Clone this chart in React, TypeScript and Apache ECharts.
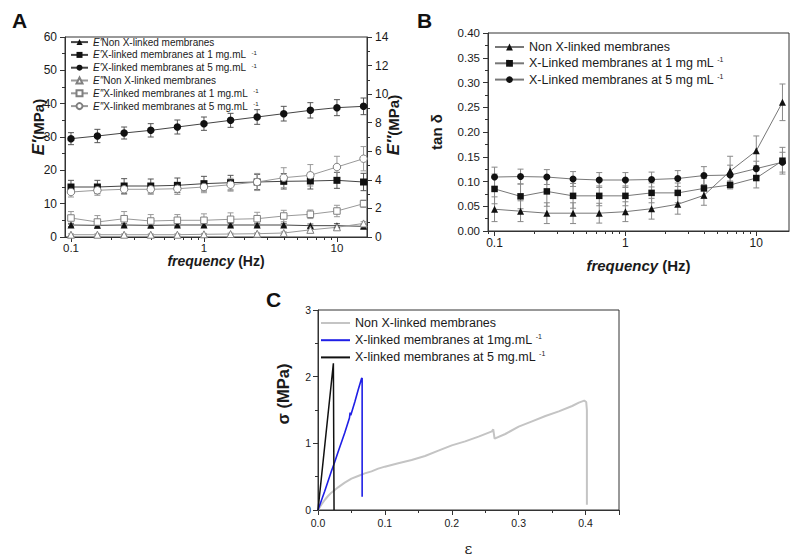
import React, { useEffect, useRef } from 'react';
import * as echarts from 'echarts';

// ---------- Data ----------
const FREQ = [0.1, 0.158, 0.251, 0.398, 0.631, 1, 1.585, 2.512, 3.981, 6.31, 10, 15.85];

// Panel A – E' (MPa, left axis)
const E1_NON = [3.6, 3.5, 3.6, 3.5, 3.6, 3.6, 3.6, 3.6, 3.6, 3.4, 3.4, 3.2];
const E1_NON_ERR = [0.5, 0.5, 0.5, 0.5, 0.5, 0.5, 0.5, 0.5, 0.5, 0.5, 0.6, 0.6];
const E1_1MG = [15.0, 15.0, 15.3, 15.3, 15.5, 16.0, 16.3, 16.5, 16.7, 16.8, 17.0, 16.5];
const E1_1MG_ERR = [2.0, 2.0, 2.2, 2.1, 2.2, 2.2, 2.2, 2.3, 2.3, 2.4, 2.4, 2.6];
const E1_5MG = [29.5, 30.3, 31.2, 32.0, 33.0, 34.0, 35.0, 36.0, 37.0, 38.0, 38.8, 39.2];
const E1_5MG_ERR = [1.8, 2.0, 1.8, 2.0, 2.1, 2.0, 2.1, 2.2, 2.2, 2.3, 2.4, 2.5];

// Panel A – E'' (MPa, right axis)
const E2_NON = [0.16, 0.16, 0.16, 0.16, 0.16, 0.19, 0.21, 0.23, 0.28, 0.5, 0.68, 0.95];
const E2_NON_ERR = [0.06, 0.06, 0.06, 0.06, 0.06, 0.06, 0.06, 0.06, 0.08, 0.1, 0.1, 0.12];
const E2_1MG = [1.33, 1.05, 1.28, 1.12, 1.17, 1.17, 1.24, 1.28, 1.47, 1.59, 1.82, 2.33];
const E2_1MG_ERR = [0.45, 0.45, 0.5, 0.45, 0.4, 0.45, 0.45, 0.45, 0.4, 0.3, 0.4, 0.25];
const E2_5MG = [3.15, 3.27, 3.34, 3.34, 3.38, 3.5, 3.66, 3.85, 4.15, 4.32, 4.9, 5.48];
const E2_5MG_ERR = [0.35, 0.35, 0.35, 0.35, 0.4, 0.4, 0.45, 0.6, 0.7, 0.75, 0.75, 0.85];

// Panel B – tan δ
const TAN_NON = [0.044, 0.040, 0.036, 0.036, 0.036, 0.039, 0.045, 0.054, 0.072, 0.121, 0.162, 0.260];
const TAN_NON_ERR = [0.025, 0.021, 0.021, 0.021, 0.02, 0.02, 0.021, 0.02, 0.02, 0.03, 0.03, 0.037];
const TAN_1MG = [0.085, 0.070, 0.080, 0.071, 0.071, 0.071, 0.077, 0.077, 0.086, 0.093, 0.107, 0.142];
const TAN_1MG_ERR = [0.03, 0.025, 0.03, 0.025, 0.02, 0.02, 0.02, 0.02, 0.02, 0.008, 0.02, 0.027];
const TAN_5MG = [0.109, 0.110, 0.109, 0.105, 0.103, 0.103, 0.104, 0.106, 0.112, 0.113, 0.126, 0.139];
const TAN_5MG_ERR = [0.02, 0.015, 0.015, 0.015, 0.015, 0.015, 0.015, 0.016, 0.018, 0.02, 0.015, 0.02];

// Panel C – stress (MPa) vs strain
const STRAIN_NON = [0, 0.005, 0.01, 0.015, 0.02, 0.025, 0.03, 0.04, 0.05, 0.06, 0.07, 0.08, 0.09, 0.1, 0.12, 0.14, 0.16, 0.18, 0.2, 0.22, 0.24, 0.26, 0.262, 0.264, 0.28, 0.3, 0.32, 0.34, 0.36, 0.38, 0.39, 0.398, 0.401, 0.402, 0.402];
const STRESS_NON = [0, 0.08, 0.15, 0.21, 0.26, 0.3, 0.34, 0.41, 0.47, 0.51, 0.55, 0.58, 0.62, 0.65, 0.7, 0.75, 0.81, 0.89, 0.97, 1.03, 1.1, 1.18, 1.21, 1.07, 1.14, 1.25, 1.33, 1.41, 1.48, 1.56, 1.61, 1.64, 1.62, 1.5, 0.08];
const STRAIN_1MG = [0, 0.01, 0.02, 0.025, 0.03, 0.04, 0.047, 0.048, 0.049, 0.055, 0.06, 0.065, 0.066, 0.066];
const STRESS_1MG = [0, 0.28, 0.58, 0.72, 0.87, 1.16, 1.38, 1.46, 1.42, 1.62, 1.8, 1.97, 1.98, 0.2];
const STRAIN_5MG = [0, 0.023, 0.024, 0.024];
const STRESS_5MG = [0, 2.2, 2.2, 0];

// Tick labels
const LOG_MAJOR = [-1, 0, 1];
const TICKS_A_LEFT = { min: 0, max: 60, interval: 10 };
const TICKS_A_RIGHT = { min: 0, max: 14, interval: 2 };

// ---------- helpers ----------
const FONT = '"Liberation Sans", Arial, sans-serif';
const TXT = '#1a1a1a';
const AX = '#333';

const LOG_MINOR: number[] = [];
[-2, -1, 0, 1].forEach((d) => {
  for (let k = 2; k <= 9; k++) LOG_MINOR.push(Math.log10(k * Math.pow(10, d)));
});

const pts = (vals: number[]) => FREQ.map((f, i) => [Math.log10(f), vals[i]]);
const errPts = (vals: number[], errs: number[]) => FREQ.map((f, i) => [Math.log10(f), vals[i], errs[i]]);
const xy = (xs: number[], ys: number[]) => xs.map((x, i) => [x, ys[i]]);

const logFmt = (v: number) => {
  const f = Math.pow(10, v);
  return f < 1 ? f.toFixed(1) : String(Math.round(f));
};

const errSeries = (data: number[][], xi: number, yi: number, color: string) => ({
  type: 'custom',
  xAxisIndex: xi,
  yAxisIndex: yi,
  z: 1,
  silent: true,
  encode: { x: 0, y: 1 },
  data,
  renderItem: (params: any, api: any) => {
    const x = api.value(0);
    const y = api.value(1);
    const e = api.value(2);
    const t = api.coord([x, y + e]);
    const b = api.coord([x, y - e]);
    const w = 3;
    const st = { stroke: color, lineWidth: 1 };
    return {
      type: 'group',
      children: [
        { type: 'line', shape: { x1: t[0], y1: t[1], x2: b[0], y2: b[1] }, style: st },
        { type: 'line', shape: { x1: t[0] - w, y1: t[1], x2: t[0] + w, y2: t[1] }, style: st },
        { type: 'line', shape: { x1: b[0] - w, y1: b[1], x2: b[0] + w, y2: b[1] }, style: st },
      ],
    };
  },
});

const lineSeries = (name: string, data: number[][], xi: number, yi: number, symbol: string, size: number, color: string, lineColor: string) => ({
  name,
  type: 'line',
  xAxisIndex: xi,
  yAxisIndex: yi,
  z: 2,
  data,
  symbol,
  symbolSize: size,
  showSymbol: true,
  itemStyle: { color },
  lineStyle: { color: lineColor, width: 1 },
});

const openSeries = (name: string, data: number[][], symbol: string, size: number) => ({
  ...lineSeries(name, data, 0, 1, symbol, size, '#fff', '#999'),
  itemStyle: { color: '#fff', borderColor: '#808080', borderWidth: 1 },
});

const LABELS: Record<string, string> = {
  a1: "{i|E\u2032}Non X-linked membranes",
  a2: "{i|E\u2032}X-linked membranes at 1 mg.mL  {s|-1}",
  a3: "{i|E\u2032}X-linked membranes at 5 mg.mL  {s|-1}",
  a4: "{i|E\u2033}Non X-linked membranes",
  a5: "{i|E\u2033}X-linked membranes at 1 mg.mL  {s|-1}",
  a6: "{i|E\u2033}X-linked membranes at 5 mg.mL  {s|-1}",
  b1: 'Non X-linked membranes',
  b2: 'X-Linked membranes at 1 mg mL {s|-1}',
  b3: 'X-Linked membranes at 5 mg mL {s|-1}',
  c1: 'Non X-linked membranes',
  c2: 'X-linked membranes at 1mg.mL {s|-1}',
  c3: 'X-linked membranes at 5 mg.mL {s|-1}',
};

const axisLine = { show: true, onZero: false, lineStyle: { color: AX, width: 1 } };
const tick = (len: number) => ({ show: true, inside: false, length: len, lineStyle: { color: AX, width: 1 } });
const minor = (n: number) => ({ show: true, splitNumber: n, length: 3, lineStyle: { color: AX, width: 1 } });

const vTitle = (x: number, y: number, text: string, size: number) => ({
  type: 'text', x, y, rotation: Math.PI / 2, silent: true,
  style: {
    text, align: 'center', verticalAlign: 'middle', fontSize: size, fontWeight: 'bold', fontFamily: FONT, fill: TXT,
    rich: { i: { fontStyle: 'italic', fontWeight: 'bold', fontSize: size + 2, fontFamily: FONT, fill: TXT } },
  },
});

const buildOption = () => {
  const gridBase = { show: true, borderColor: AX, borderWidth: 1, backgroundColor: 'transparent', containLabel: false, outerBoundsMode: 'none' };
  const freqName = (size: number) => ({
    fontSize: size, fontWeight: 'bold', color: TXT, fontFamily: FONT,
    rich: { i: { fontStyle: 'italic', fontWeight: 'bold', fontSize: size, fontFamily: FONT, color: TXT } },
  });
  return {
    animation: false,
    textStyle: { fontFamily: FONT, color: TXT },
    grid: [
      { ...gridBase, left: 65, top: 37, width: 302, height: 200 },
      { ...gridBase, left: 488, top: 33, width: 301, height: 198 },
      { ...gridBase, left: 318, top: 310, width: 301, height: 200 },
    ],
    xAxis: [
      {
        gridIndex: 0, type: 'value', min: -1.045, max: 1.226, position: 'bottom',
        axisLine, axisTick: { ...tick(5), customValues: LOG_MAJOR },
        axisLabel: { customValues: LOG_MAJOR, formatter: logFmt, fontSize: 11.5, margin: 5, color: TXT, fontFamily: FONT },
        splitLine: { show: false },
        name: '{i|frequency} (Hz)', nameLocation: 'middle', nameGap: 17, nameMoveOverlap: false,
        nameTextStyle: freqName(14),
      },
      {
        gridIndex: 0, type: 'value', min: -1.045, max: 1.226, position: 'bottom',
        axisLine: { show: false }, axisTick: { ...tick(3), customValues: LOG_MINOR.filter((v) => v > -1.045 && v < 1.226) },
        axisLabel: { show: false }, splitLine: { show: false },
      },
      {
        gridIndex: 1, type: 'value', min: -1.05, max: 1.25, position: 'bottom',
        axisLine, axisTick: { ...tick(5), customValues: LOG_MAJOR },
        axisLabel: { customValues: LOG_MAJOR, formatter: logFmt, fontSize: 12, margin: 6, color: TXT, fontFamily: FONT },
        splitLine: { show: false },
        name: '{i|frequency} (Hz)', nameLocation: 'middle', nameGap: 27, nameMoveOverlap: false,
        nameTextStyle: freqName(15),
      },
      {
        gridIndex: 1, type: 'value', min: -1.05, max: 1.25, position: 'bottom',
        axisLine: { show: false }, axisTick: { ...tick(3), customValues: LOG_MINOR.filter((v) => v > -1.05 && v < 1.25) },
        axisLabel: { show: false }, splitLine: { show: false },
      },
      {
        gridIndex: 2, type: 'value', min: 0, max: 0.45, interval: 0.1, position: 'bottom',
        axisLine, axisTick: tick(5), minorTick: minor(2),
        axisLabel: { formatter: (v: number) => v.toFixed(1), showMaxLabel: false, fontSize: 10.5, margin: 7, color: TXT, fontFamily: FONT },
        splitLine: { show: false }, minorSplitLine: { show: false },
        name: '\u03b5', nameLocation: 'middle', nameGap: 31, nameMoveOverlap: false,
        nameTextStyle: { fontSize: 15, fontFamily: '"DejaVu Serif", "Liberation Serif", serif', color: TXT },
      },
    ],
    yAxis: [
      {
        gridIndex: 0, type: 'value', ...TICKS_A_LEFT, position: 'left',
        axisLine, axisTick: tick(5), minorTick: minor(2),
        axisLabel: { fontSize: 12, margin: 8, color: TXT, fontFamily: FONT },
        splitLine: { show: false }, minorSplitLine: { show: false },
      },
      {
        gridIndex: 0, type: 'value', ...TICKS_A_RIGHT, position: 'right',
        axisLine, axisTick: tick(5), minorTick: minor(2),
        axisLabel: { fontSize: 12, margin: 8, color: TXT, fontFamily: FONT },
        splitLine: { show: false }, minorSplitLine: { show: false },
      },
      {
        gridIndex: 1, type: 'value', min: 0, max: 0.4, interval: 0.05, position: 'left',
        axisLine, axisTick: tick(5), minorTick: minor(2),
        axisLabel: { formatter: (v: number) => v.toFixed(2), fontSize: 11.5, margin: 8, color: TXT, fontFamily: FONT },
        splitLine: { show: false }, minorSplitLine: { show: false },
        name: 'tan \u03b4', nameLocation: 'middle', nameGap: 44, nameRotate: 90, nameMoveOverlap: false,
        nameTextStyle: { fontSize: 15, fontWeight: 'bold', color: TXT, fontFamily: FONT },
      },
      {
        gridIndex: 2, type: 'value', min: 0, max: 3, interval: 1, position: 'left',
        axisLine, axisTick: tick(5), minorTick: minor(2),
        axisLabel: { fontSize: 10.5, margin: 7, color: TXT, fontFamily: FONT },
        splitLine: { show: false }, minorSplitLine: { show: false },
      },
    ],
    legend: [
      {
        data: ['a1', 'a2', 'a3', 'a4', 'a5', 'a6'], orient: 'vertical', left: 70, top: 37, padding: 0,
        itemWidth: 17, itemHeight: 7.5, itemGap: 2.6, selectedMode: false,
        formatter: (n: string) => LABELS[n],
        textStyle: {
          fontSize: 10, lineHeight: 10.2, color: TXT, fontFamily: FONT,
          rich: { i: { fontStyle: 'italic', fontSize: 10, lineHeight: 10.2, fontFamily: FONT, color: TXT }, s: { fontSize: 6, lineHeight: 10.2, verticalAlign: 'top', fontFamily: FONT, color: TXT } },
        },
      },
      {
        data: ['b1', 'b2', 'b3'], orient: 'vertical', left: 494, top: 40, padding: 0,
        itemWidth: 29, itemHeight: 8.5, itemGap: 2.3, selectedMode: false,
        formatter: (n: string) => LABELS[n],
        textStyle: {
          fontSize: 12.5, lineHeight: 14, color: TXT, fontFamily: FONT,
          rich: { s: { fontSize: 7, lineHeight: 14, verticalAlign: 'top', fontFamily: FONT, color: TXT } },
        },
      },
      {
        data: ['c1', 'c2', 'c3'], orient: 'vertical', left: 321, top: 316, padding: 0,
        itemWidth: 29, itemHeight: 2, itemGap: 3.2, selectedMode: false,
        icon: 'path://M0,0L29,0L29,2L0,2Z',
        formatter: (n: string) => LABELS[n],
        textStyle: {
          fontSize: 12.5, lineHeight: 14, color: TXT, fontFamily: FONT,
          rich: { s: { fontSize: 7, lineHeight: 14, verticalAlign: 'top', fontFamily: FONT, color: TXT } },
        },
      },
    ],
    graphic: [
      { type: 'text', x: 12, y: 20, style: { text: 'A', fontSize: 21, fontWeight: 'bold', fontFamily: FONT, fill: '#111', verticalAlign: 'middle' } },
      { type: 'text', x: 417, y: 20, style: { text: 'B', fontSize: 21, fontWeight: 'bold', fontFamily: FONT, fill: '#111', verticalAlign: 'middle' } },
      { type: 'text', x: 266, y: 299, style: { text: 'C', fontSize: 21, fontWeight: 'bold', fontFamily: FONT, fill: '#111', verticalAlign: 'middle' } },
      vTitle(38, 127, '{i|E\u2032}(MPa)', 15),
      vTitle(393, 125, '{i|E\u2033}(MPa)', 15),
      vTitle(283, 394, '\u03c3 (MPa)', 16.5),
    ],
    series: [
      // Panel A error bars
      errSeries(errPts(E1_NON, E1_NON_ERR), 0, 0, '#555'),
      errSeries(errPts(E1_1MG, E1_1MG_ERR), 0, 0, '#555'),
      errSeries(errPts(E1_5MG, E1_5MG_ERR), 0, 0, '#555'),
      errSeries(errPts(E2_NON, E2_NON_ERR), 0, 1, '#999'),
      errSeries(errPts(E2_1MG, E2_1MG_ERR), 0, 1, '#999'),
      errSeries(errPts(E2_5MG, E2_5MG_ERR), 0, 1, '#999'),
      lineSeries('a1', pts(E1_NON), 0, 0, 'triangle', 7, '#111', '#444'),
      lineSeries('a2', pts(E1_1MG), 0, 0, 'rect', 7, '#111', '#444'),
      lineSeries('a3', pts(E1_5MG), 0, 0, 'circle', 7.5, '#111', '#444'),
      openSeries('a4', pts(E2_NON), 'triangle', 7),
      openSeries('a5', pts(E2_1MG), 'rect', 6.5),
      openSeries('a6', pts(E2_5MG), 'circle', 7.5),
      // Panel B
      errSeries(errPts(TAN_NON, TAN_NON_ERR), 2, 2, '#888'),
      errSeries(errPts(TAN_1MG, TAN_1MG_ERR), 2, 2, '#888'),
      errSeries(errPts(TAN_5MG, TAN_5MG_ERR), 2, 2, '#888'),
      lineSeries('b1', pts(TAN_NON), 2, 2, 'triangle', 7, '#111', '#777'),
      lineSeries('b2', pts(TAN_1MG), 2, 2, 'rect', 6.5, '#111', '#777'),
      lineSeries('b3', pts(TAN_5MG), 2, 2, 'circle', 7, '#111', '#777'),
      // Panel C
      { name: 'c1', type: 'line', xAxisIndex: 4, yAxisIndex: 3, data: xy(STRAIN_NON, STRESS_NON), symbol: 'none', itemStyle: { color: '#c4c4c4' }, lineStyle: { color: '#c4c4c4', width: 2 } },
      { name: 'c2', type: 'line', xAxisIndex: 4, yAxisIndex: 3, data: xy(STRAIN_1MG, STRESS_1MG), symbol: 'none', itemStyle: { color: '#1f1fe6' }, lineStyle: { color: '#1f1fe6', width: 1.6 } },
      { name: 'c3', type: 'line', xAxisIndex: 4, yAxisIndex: 3, data: xy(STRAIN_5MG, STRESS_5MG), symbol: 'none', itemStyle: { color: '#111' }, lineStyle: { color: '#111', width: 1.5 } },
    ],
  };
};

export default function App() {
  const ref = useRef<HTMLDivElement>(null);
  useEffect(() => {
    if (!ref.current) return;
    const chart = echarts.init(ref.current, undefined, { renderer: 'svg' });
    chart.setOption(buildOption() as any);
    return () => chart.dispose();
  }, []);
  return <div ref={ref} style={{ position: 'absolute', left: 0, top: 0, width: 800, height: 559, background: '#fff' }} />;
}
